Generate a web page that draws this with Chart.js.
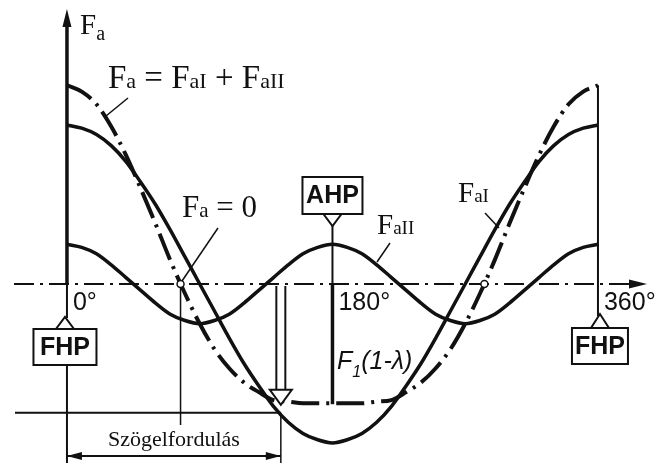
<!DOCTYPE html>
<html>
<head>
<meta charset="utf-8">
<script src="https://cdn.jsdelivr.net/npm/chart.js@4"></script>
<style>
  html, body { margin: 0; padding: 0; background: #fff; }
  #wrap { width: 658px; height: 463px; position: relative; }
</style>
</head>
<body>
<div id="wrap"><canvas id="forceChart"></canvas></div>
<script>
// crank angle in degrees
const angles = [0, 10, 20, 30, 40, 50, 60, 70, 80, 90, 100, 110, 120, 130, 140, 150, 160, 170, 180,
                190, 200, 210, 220, 230, 240, 250, 260, 270, 280, 290, 300, 310, 320, 330, 340, 350, 360];
// first order force F_aI
const faI = [1.00, 0.98, 0.94, 0.87, 0.77, 0.64, 0.50, 0.34, 0.17, 0.00, -0.17, -0.34, -0.50, -0.64, -0.77, -0.87, -0.94, -0.98, -1.00,
             -0.98, -0.94, -0.87, -0.77, -0.64, -0.50, -0.34, -0.17, 0.00, 0.17, 0.34, 0.50, 0.64, 0.77, 0.87, 0.94, 0.98, 1.00];
// second order force F_aII
const faII = [0.25, 0.23, 0.19, 0.12, 0.04, -0.04, -0.12, -0.19, -0.23, -0.25, -0.23, -0.19, -0.12, -0.04, 0.04, 0.12, 0.19, 0.23, 0.25,
              0.23, 0.19, 0.12, 0.04, -0.04, -0.12, -0.19, -0.23, -0.25, -0.23, -0.19, -0.12, -0.04, 0.04, 0.12, 0.19, 0.23, 0.25];
// resulting force F_a = F_aI + F_aII
const faSum = [1.25, 1.21, 1.13, 0.99, 0.81, 0.60, 0.38, 0.15, -0.06, -0.25, -0.41, -0.53, -0.62, -0.68, -0.73, -0.74, -0.75, -0.75, -0.75,
               -0.75, -0.75, -0.74, -0.73, -0.68, -0.62, -0.53, -0.41, -0.25, -0.06, 0.15, 0.38, 0.60, 0.81, 0.99, 1.13, 1.21, 1.25];

const tickDeg = [0, 180, 360];
const tickLabels = ['0°', '180°', '360°'];
const zeroCross = [77, 283];      // where F_a = 0
const turnDeg = 145;               // end of the marked rotation
const turnLevel = -0.81;           // level of the reference line under the axis
const arrowTip = -0.76;            // tip of the hollow arrow
const sumMin = -0.75;              // F1(1-λ)

const BLACK = '#111';
const SERIF = '"Liberation Serif", "Times New Roman", serif';
const SANS = '"Liberation Sans", Arial, sans-serif';

function toXY(vals) {
  return angles.map((a, i) => ({ x: a, y: vals[i] }));
}

function seg(ctx, x1, y1, x2, y2, w, dash) {
  ctx.save();
  ctx.lineWidth = w;
  ctx.strokeStyle = BLACK;
  ctx.setLineDash(dash || []);
  ctx.beginPath();
  ctx.moveTo(x1, y1);
  ctx.lineTo(x2, y2);
  ctx.stroke();
  ctx.restore();
}

function poly(ctx, pts, fill, w) {
  ctx.save();
  ctx.beginPath();
  ctx.moveTo(pts[0][0], pts[0][1]);
  for (let i = 1; i < pts.length; i++) ctx.lineTo(pts[i][0], pts[i][1]);
  ctx.closePath();
  ctx.fillStyle = fill;
  ctx.fill();
  if (w) {
    ctx.lineWidth = w;
    ctx.strokeStyle = BLACK;
    ctx.stroke();
  }
  ctx.restore();
}

// text made of runs: [text, size, dy]
function runs(ctx, x, y, parts, family, style) {
  ctx.save();
  ctx.fillStyle = BLACK;
  ctx.textBaseline = 'alphabetic';
  ctx.textAlign = 'left';
  let cx = x;
  parts.forEach(p => {
    ctx.font = (style || '') + ' ' + p[1] + 'px ' + family;
    ctx.fillText(p[0], cx, y + (p[2] || 0));
    cx += ctx.measureText(p[0]).width;
  });
  ctx.restore();
}

function tagBox(ctx, cx, top, w, h, text, apexY, up) {
  // little triangle pointing to the axis
  const baseY = up ? top : top + h;
  poly(ctx, [[cx - 9, baseY], [cx + 9, baseY], [cx, apexY]], '#fff', 2);
  ctx.save();
  ctx.fillStyle = '#fff';
  ctx.fillRect(cx - w / 2, top, w, h);
  ctx.lineWidth = 2;
  ctx.strokeStyle = BLACK;
  ctx.strokeRect(cx - w / 2, top, w, h);
  ctx.font = 'bold 25px ' + SANS;
  ctx.fillStyle = BLACK;
  ctx.textAlign = 'center';
  ctx.textBaseline = 'middle';
  ctx.fillText(text, cx, top + h / 2 + 1);
  ctx.restore();
}

const drawingLines = {
  id: 'drawingLines',
  beforeDatasetsDraw(chart) {
    const { ctx, scales: { x, y } } = chart;
    const y0 = y.getPixelForValue(0);
    const x0 = x.getPixelForValue(0);
    const x180 = x.getPixelForValue(180);
    const x360 = x.getPixelForValue(360);
    const xt = x.getPixelForValue(turnDeg);

    // horizontal axis, dash-dot with arrow
    seg(ctx, 14, y0, 632, y0, 2, [20, 6, 3, 6]);
    seg(ctx, 628, y0, 636, y0, 2);
    poly(ctx, [[629, y0 - 4.5], [647, y0], [629, y0 + 4.5]], BLACK);

    // vertical axis with arrow
    seg(ctx, x0, 24, x0, y0, 3.5);
    poly(ctx, [[x0 - 4.5, 27], [x0, 9], [x0 + 4.5, 27]], BLACK);
    seg(ctx, x0, y0, x0, 318, 2);
    seg(ctx, x0, 364, x0, 463, 2);

    // 360° line
    seg(ctx, x360, y.getPixelForValue(faSum[faSum.length - 1]), x360, 316, 2);

    // 180° line down to the AHP tag and the F1(1-λ) dimension
    seg(ctx, x180, 225, x180, y0, 2);
    seg(ctx, x180, y0, x180, y.getPixelForValue(sumMin) + 1, 3.5);

    // zero crossing projection
    const xz = x.getPixelForValue(zeroCross[0]);
    seg(ctx, xz, y0, xz, 425, 1.5);

    // reference line and extension lines of the rotation dimension
    const yl = y.getPixelForValue(turnLevel);
    seg(ctx, 15, yl, xt, yl, 2);
    seg(ctx, xt, yl, xt, 463, 1.5);

    // dimension line with arrows
    const yd = 456;
    seg(ctx, x0, yd, xt, yd, 2);
    poly(ctx, [[x0, yd], [x0 + 15, yd - 4], [x0 + 15, yd + 4]], BLACK);
    poly(ctx, [[xt, yd], [xt - 15, yd - 4], [xt - 15, yd + 4]], BLACK);
  },
  afterDatasetsDraw(chart) {
    const { ctx, scales: { x, y } } = chart;
    const y0 = y.getPixelForValue(0);
    const x0 = x.getPixelForValue(0);
    const x180 = x.getPixelForValue(180);
    const x360 = x.getPixelForValue(360);
    const xt = x.getPixelForValue(turnDeg);

    // hollow arrow down to the resulting force
    const yTip = y.getPixelForValue(arrowTip);
    ctx.save();
    ctx.fillStyle = '#fff';
    ctx.fillRect(xt - 4, y0 + 2, 8, yTip - 16 - y0);
    ctx.restore();
    seg(ctx, xt - 4.5, y0 + 2, xt - 4.5, yTip - 15, 2);
    seg(ctx, xt + 4.5, y0 + 2, xt + 4.5, yTip - 15, 2);
    poly(ctx, [[xt - 11, yTip - 15], [xt + 11, yTip - 15], [xt, yTip]], '#fff', 2);

    // F = 0 points
    zeroCross.forEach(d => {
      ctx.save();
      ctx.beginPath();
      ctx.arc(x.getPixelForValue(d), y0, 3.5, 0, Math.PI * 2);
      ctx.fillStyle = '#fff';
      ctx.fill();
      ctx.lineWidth = 1.5;
      ctx.strokeStyle = BLACK;
      ctx.stroke();
      ctx.restore();
    });

    // tags for dead centres
    tagBox(ctx, x0 - 2, 329, 63, 36, 'FHP', 317, true);
    tagBox(ctx, x360 + 2, 328, 56, 36, 'FHP', 314, true);
    tagBox(ctx, x180, 177, 60, 37, 'AHP', 226, false);

    // angle ticks
    ctx.save();
    ctx.font = '25px ' + SANS;
    ctx.fillStyle = BLACK;
    ctx.textBaseline = 'alphabetic';
    tickDeg.forEach((d, i) => {
      ctx.fillText(tickLabels[i], x.getPixelForValue(d) + 6, 310);
    });
    ctx.restore();

    // leader lines
    seg(ctx, 128, 98, 106, 116, 1.5);
    seg(ctx, 218, 228, 182, 281, 1.5);
    seg(ctx, 390, 243, 377, 262, 1.5);
    seg(ctx, 485, 213, 499, 228, 1.5);

    // curve names
    runs(ctx, 80, 34, [['F', 29], ['a', 20, 6]], SERIF);
    runs(ctx, 108, 88, [['F', 33], ['a', 22], [' = ', 33], ['F', 33], ['aI', 22], [' + ', 33], ['F', 33], ['aII', 22]], SERIF);
    runs(ctx, 182, 217, [['F', 31], ['a', 21], [' = 0', 31]], SERIF);
    runs(ctx, 377, 234, [['F', 29], ['aII', 19]], SERIF);
    runs(ctx, 458, 202, [['F', 29], ['aI', 19]], SERIF);
    runs(ctx, 337, 369, [['F', 25], ['1', 16, 8], ['(1-λ)', 25]], SANS, 'italic');

    // rotation label
    ctx.save();
    ctx.font = '22px ' + SERIF;
    ctx.fillStyle = BLACK;
    ctx.textAlign = 'center';
    ctx.fillText('Szögelfordulás', (x0 + xt) / 2, 446);
    ctx.restore();
  }
};

new Chart(document.getElementById('forceChart'), {
  type: 'line',
  data: {
    datasets: [
      { label: 'FaI', data: toXY(faI), borderColor: BLACK, borderWidth: 3.5 },
      { label: 'FaII', data: toXY(faII), borderColor: BLACK, borderWidth: 3.5 },
      { label: 'Fa', data: toXY(faSum), borderColor: BLACK, borderWidth: 4, borderDash: [28, 7, 3, 7] }
    ]
  },
  options: {
    animation: false,
    responsive: true,
    maintainAspectRatio: false,
    layout: { padding: 0 },
    elements: {
      point: { radius: 0 },
      line: { cubicInterpolationMode: 'monotone', fill: false }
    },
    scales: {
      x: { type: 'linear', min: -45.4, max: 400.7, display: false },
      y: { min: -1.126, max: 1.786, display: false }
    },
    plugins: {
      legend: { display: false },
      tooltip: { enabled: false }
    }
  },
  plugins: [drawingLines]
});
</script>
</body>
</html>
